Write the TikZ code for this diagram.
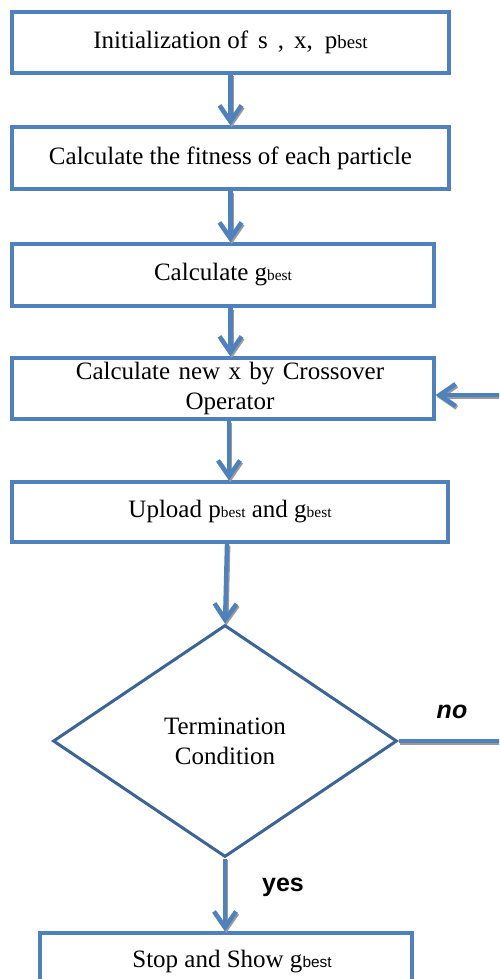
\documentclass[tikz,border=0pt]{standalone}
\usepackage{fontspec}
\setmainfont{Liberation Serif}
\newfontfamily\labelfont{Liberation Sans}
\usetikzlibrary{arrows.meta,shapes.geometric,calc}

\definecolor{boxblue}{HTML}{4F81BD}
\definecolor{diablue}{HTML}{3C6496}
\definecolor{shadowgray}{HTML}{9A9A9A}

% small index text such as "best"
\newcommand{\idx}[1]{{\fontsize{7.7}{8}\selectfont #1}}
\newcommand{\bigidx}[1]{{\fontsize{9.4}{10}\selectfont #1}}
\newcommand{\idxsf}[1]{{\labelfont\fontsize{7.7}{8}\selectfont #1}}

% a connector drawn twice: a grey drop shadow, then the blue line on top
\newcommand{\shadowed}[3]{%
  \draw[#1, draw=shadowgray, transform canvas={shift={(0.6pt,-0.9pt)}}] #2 -- #3;
  \draw[#1] #2 -- #3;}

\tikzset{
  stepbox/.style={draw=boxblue, line width=1.7pt, rectangle, inner sep=0pt,
    align=center, font=\fontsize{12.5}{15}\selectfont},
  decision/.style={draw=diablue, line width=1.5pt, diamond, inner sep=0pt,
    align=center, font=\fontsize{12.5}{15}\selectfont},
  flow/.style={draw=boxblue, line width=2.2pt,
    -{Straight Barb[length=8pt,width=11pt]}},
  plainflow/.style={draw=boxblue, line width=2.2pt},
  answer/.style={font=\labelfont\bfseries\fontsize{12.5}{15}\selectfont},
}

\begin{document}
\begin{tikzpicture}[x=0.5pt, y=-0.5pt]
  \useasboundingbox (0,0) rectangle (499,979);
  \clip (0,0) rectangle (499,979);
  \fill[white] (0,0) rectangle (499,979);

  % process steps
  \node[stepbox, minimum width=218.5pt, minimum height=30.5pt] (init) at (230.5,42.5)
    {Initialization of\hspace{5pt}s\hspace{5pt},\hspace{5pt}x,\hspace{6pt}p\bigidx{best}};
  \node[stepbox, minimum width=218.5pt, minimum height=31pt] (fit) at (230.5,158)
    {Calculate the fitness of each particle};
  \node[stepbox, minimum width=211pt, minimum height=31pt] (gb) at (223,275)
    {Calculate g\idx{best}};
  \node[stepbox, minimum width=211pt, minimum height=30.5pt, text width=200pt] (cross) at (223,388.5)
    {\hspace*{7pt}Calculate new x by Crossover\\\hspace*{7pt}Operator};
  \node[stepbox, minimum width=218pt, minimum height=30pt] (upd) at (230,512)
    {Upload p\idx{best} and g\idx{best}};
  \node[decision, minimum width=172pt, minimum height=116pt] (term) at (225,741)
    {Termination\\Condition};
  \node[stepbox, minimum width=186pt, minimum height=29pt] (stop) at (226,962)
    {\hspace*{6pt}Stop and Show g\idxsf{best}};

  % connectors
  \coordinate (loopR) at (530,741);
  \shadowed{flow}{(init.south)}{(fit.north)}
  \shadowed{flow}{(fit.south)}{(fit.south |- gb.north)}
  \shadowed{flow}{(fit.south |- gb.south)}{(fit.south |- cross.north)}
  \shadowed{flow}{(cross.south -| 229,0)}{(upd.north -| 229,0)}
  \shadowed{flow}{(upd.south -| 227,0)}{(term.north)}
  \shadowed{flow}{(term.south)}{(term.south |- stop.north)}

  % loop back when the condition fails
  \shadowed{plainflow}{(term.east)}{(loopR)}
  \shadowed{flow}{($(loopR |- cross.east)+(0,6.5)$)}{($(cross.east)+(0,6.5)$)}

  % branch labels
  \node[answer, font=\labelfont\bfseries\itshape\fontsize{12.5}{15}\selectfont] (nolbl) at (452,712) {no};
  \node[answer] (yeslbl) at (283,887) {yes};
\end{tikzpicture}
\end{document}
